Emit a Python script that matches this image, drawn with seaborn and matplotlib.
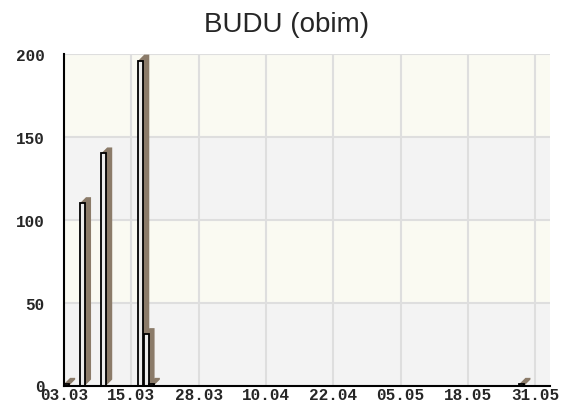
import pandas as pd
import numpy as np
import matplotlib
matplotlib.use('Agg')
import matplotlib.pyplot as plt
from matplotlib.patches import Polygon
from matplotlib.ticker import MultipleLocator
import seaborn as sns

# podaci
dates = ['03.03', '06.03', '10.03', '17.03', '18.03', '19.03', '28.05']
values = [1, 110, 140, 196, 31, 1, 1]
tick_labels = ['03.03', '15.03', '28.03', '10.04', '22.04', '05.05', '18.05', '31.05']
title = 'BUDU (obim)'

d = pd.to_datetime(dates, format='%d.%m')
df = pd.DataFrame({'dan': (d - d[0]).days, 'obim': values})

sns.set_style('white')

fig = plt.figure(figsize=(5.62, 4.10), dpi=100)
ax = fig.add_axes([64 / 562, 23.5 / 410, 486 / 562, 331.5 / 410])

sns.barplot(data=df, x='dan', y='obim', native_scale=True, width=0.95,
            color='#ececec', edgecolor='black', linewidth=1.3,
            errorbar=None, saturation=1, ax=ax, zorder=4)
bars = list(ax.containers[0])

# pozadinske trake
band_colors = ['#f3f3f3', '#fafaf2', '#f3f3f3', '#fafaf2']
for i, c in enumerate(band_colors):
    ax.axhspan(i * 50, (i + 1) * 50, color=c, zorder=0, lw=0)

ax.set_xlim(-0.5, 91.3)
ax.set_ylim(0, 200)

tick_pos = np.linspace(0, 89, len(tick_labels)) - 0.5
ax.set_xticks(tick_pos)
ax.set_xticklabels(tick_labels)
ax.yaxis.set_major_locator(MultipleLocator(50))
ax.yaxis.set_minor_locator(MultipleLocator(10))

# mreza
for x in tick_pos[1:]:
    ax.axvline(x, color='#dedede', lw=1.5, zorder=1)
for y in [50, 100, 150, 200]:
    ax.axhline(y, color='#dedede', lw=1.5, zorder=1)

# 3D sjena iza stupaca
fig.canvas.draw()
inv = ax.transData.inverted()
o = inv.transform(ax.transData.transform((0, 0)) + np.array([6, 6]))
dx, dy = o[0], o[1]
for p in bars:
    x0 = p.get_x()
    x1 = x0 + p.get_width()
    h = p.get_height()
    poly = Polygon([(x0, 0), (x1, 0), (x1 + dx, dy), (x1 + dx, h + dy),
                    (x0 + dx, h + dy), (x0, h)],
                   closed=True, facecolor='#8b7b69', edgecolor='none', zorder=3)
    ax.add_patch(poly)

for s in ['top', 'right']:
    ax.spines[s].set_visible(False)
for s in ['left', 'bottom']:
    ax.spines[s].set_color('black')
    ax.spines[s].set_linewidth(1.5)
    ax.spines[s].set_zorder(6)

ax.tick_params(axis='y', which='major', direction='in', length=9.5, width=1.4, pad=14)
ax.tick_params(axis='y', which='minor', direction='in', length=6, width=1.4)
ax.tick_params(axis='x', direction='in', length=8.5, width=1.4, pad=1)
for lab in ax.get_xticklabels() + ax.get_yticklabels():
    lab.set_family('Liberation Mono')
    lab.set_fontweight('bold')
    lab.set_fontsize(11.5)

ax.set_xlabel('')
ax.set_ylabel('')

fig.text(287 / 562, 0.94, title, ha='center', va='center',
         family='Liberation Sans', fontsize=20)

plt.savefig('out.png', dpi=100)
